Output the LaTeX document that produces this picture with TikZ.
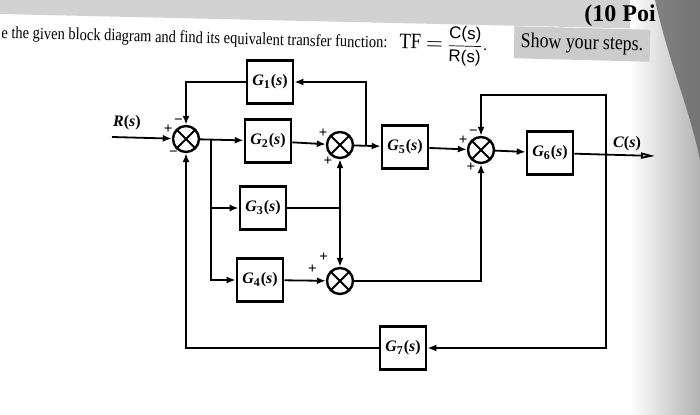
\documentclass[tikz,border=0pt]{standalone}
\usepackage{amsmath,amssymb}
\usepackage{fontspec}
\setmainfont{Liberation Serif}
\setsansfont{Liberation Sans}
\newfontfamily\angosta[FakeStretch=0.85]{Liberation Serif}
\usepackage{tikz}
\usetikzlibrary{positioning, arrows.meta}
\tikzset{bloque/.style={draw, line width=1.3pt, minimum width=23pt, minimum height=21.5pt, inner sep=0pt, font=\fontsize{8}{9}\selectfont}}
\tikzset{sumador/.style={draw, circle, line width=1.2pt, minimum size=13pt, inner sep=0pt, label distance=3pt, path picture={\draw[line width=1pt] (path picture bounding box.north west) -- (path picture bounding box.south east) (path picture bounding box.south west) -- (path picture bounding box.north east);}}}
\tikzset{flecha/.style={line width=0.9pt, -{Latex[length=4.5pt,width=3.5pt]}}}
\tikzset{linea/.style={line width=0.9pt}}
\tikzset{signo/.style={font=\bfseries\fontsize{7.5}{7.5}\selectfont, inner sep=0pt}}
\tikzset{senal/.style={font=\fontsize{8}{9}\selectfont, inner sep=1pt}}
\newcommand{\gfun}[1]{\textbf{\textit{G}\textsubscript{#1}(\textit{s})}}
\newcommand{\sig}[1]{\textbf{\textit{#1}(\textit{s})}}

\begin{document}
\begin{tikzpicture}[
                x=0.5pt, y=-0.5pt
            ]
                \useasboundingbox (0,0) rectangle (700,415);
                % fondo de la foto
                \fill[gray!35] (0,0) -- (700,0) -- (700,30) -- (0,14) -- cycle;
                \shade[left color=white, right color=gray!60] (630,0) rectangle (700,415);
                \fill[black!65, opacity=0.7] (655,0) .. controls (668,60) and (690,110) .. (700,160) -- (700,0) -- cycle;

                % enunciado
                \node[anchor=base west, rotate=-1.5, inner sep=0pt, font=\angosta\fontsize{8.5}{9}\selectfont] (enun) at (1,38) {e the given block diagram and find its equivalent transfer function:\hspace{6pt}{\fontsize{11}{12}\selectfont TF $=$} $\dfrac{\textsf{C(s)}}{\textsf{R(s)}}$.};
                \node[fill=gray!40, rotate=-1.5, minimum width=68pt, minimum height=16pt, inner sep=0pt, font=\angosta\fontsize{10.5}{12}\selectfont] (pasos) at (582,44) {Show your steps.};
                \node[font=\bfseries\fontsize{12}{14}\selectfont, inner sep=0pt] (puntos) at (620,16) {(10 Poi};

                % bloques y sumadores
                \node[sumador, label={[signo]157:+}, label={[signo]102:−}, label={[signo]236:−}] (s1) at (186,139) {};
                \node[bloque] (g1) at (270,82) {\gfun{1}};
                \node[bloque] (g2) at (268,141) {\gfun{2}};
                \node[sumador, label={[signo]150:+}, label={[signo]238:+}] (s2) at (340,145) {};
                \node[bloque] (g5) at (405,147) {\gfun{5}};
                \node[sumador, label={[signo]157:+}, label={[signo]102:−}, label={[signo]247:+}] (s3) at (481,150) {};
                \node[bloque] (g6) at (550,153) {\gfun{6}};
                \node[bloque] (g3) at (263,208) {\gfun{3}};
                \node[bloque] (g4) at (260,280) {\gfun{4}};
                \node[sumador, label={[signo, label distance=4pt]122:+}, label={[signo, label distance=5pt]162:+}] (s4) at (340,281) {};
                \node[bloque] (g7) at (403,348) {\gfun{7}};

                \node[senal] (rs) at (127,123) {\sig{R}};
                \node[senal] (cs) at (627,144) {\sig{C}};

                \coordinate (rin) at (112,137);
                \coordinate (cout) at (655,156);
                \coordinate (b1) at (366,146);
                \coordinate (b2) at (606,155);
                \coordinate (b2t) at (606,95);
                \coordinate (b3) at (211,140);
                \coordinate (j) at (340,208);

                % camino directo
                \draw[flecha] (rin) -- (s1);
                \draw[flecha] (s1) -- (g2);
                \draw[flecha] (g2) -- (s2);
                \draw[flecha] (s2) -- (g5);
                \draw[flecha] (g5) -- (s3);
                \draw[flecha] (s3) -- (g6);
                \draw[linea, -{Triangle[length=7pt, width=3pt, fill=gray!30]}] (g6) -- (cout);

                % lazos
                \draw[flecha] (b1) |- (g1);
                \draw[flecha] (g1) -| (s1);
                \draw[flecha] (b2) -- (b2t) -| (s3);
                \draw[flecha] (b2) |- (g7);
                \draw[flecha] (g7) -| (s1);
                \draw[flecha] (b3) |- (g4);
                \draw[flecha] (b3 |- g3) -- (g3);
                \draw[linea] (g3) -- (j);
                \draw[flecha] (j) -- (s2);
                \draw[flecha] (j) -- (s4);
                \draw[flecha] (g4) -- (s4);
                \draw[flecha] (s4) -| (s3);
            \end{tikzpicture}
\end{document}
